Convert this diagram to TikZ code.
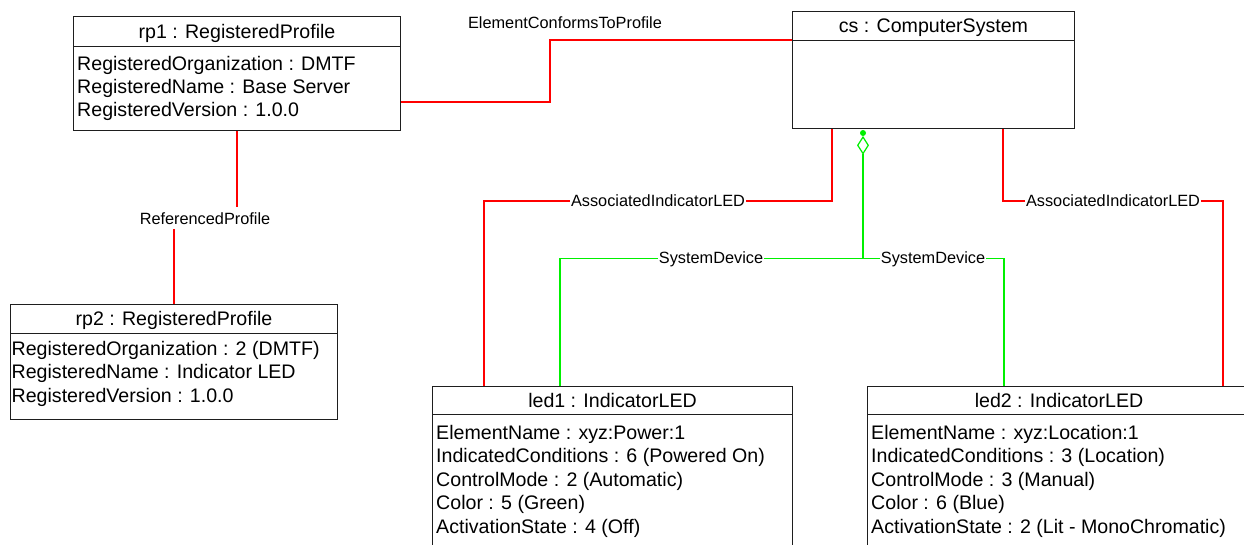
\documentclass[tikz,border=0pt]{standalone}
\usepackage{fontspec}
\setmainfont{Liberation Sans}
\usetikzlibrary{shapes.geometric,calc}
\definecolor{relred}{RGB}{255,0,0}
\definecolor{sdgreen}{RGB}{0,240,0}
\definecolor{boxgray}{RGB}{30,30,30}
\newcommand\bodyfont{\fontsize{19.6pt}{23.5pt}\selectfont}
\newcommand\lblfont{\fontsize{16.3pt}{19pt}\selectfont}
\begin{document}
\begin{tikzpicture}[x=1pt,y=-1pt,
  box/.style={draw=boxgray, line width=1pt, inner sep=0pt, anchor=north west},
  sepline/.style={draw=boxgray, line width=1pt},
  hdr/.style={font=\bodyfont, anchor=base, inner sep=0pt},
  attr/.style={font=\bodyfont, anchor=base west, inner sep=0pt},
  rel/.style={draw=relred, line width=1.4pt},
  sd/.style={draw=sdgreen, line width=1.4pt},
  sdstem/.style={draw=sdgreen, line width=2pt},
  lbl/.style={font=\lblfont, fill=white, inner xsep=1pt, inner ysep=5pt, text height=12pt, text depth=0pt},
  freelbl/.style={font=\lblfont, inner sep=0pt, text height=12pt, text depth=0pt}]
\clip (0,0) rectangle (1244,544);
\fill[white] (0,0) rectangle (1244,544);

% rp1
\node[box, minimum width=327pt, minimum height=114pt] (rp1) at (73,16) {};
\draw[sepline] ([yshift=-30pt]rp1.north west) -- ([yshift=-30pt]rp1.north east);
\node[hdr] (rp1h) at ([yshift=-22pt]rp1.north) {rp1 : RegisteredProfile};
\node[attr] (rp1a) at (77,70) {RegisteredOrganization : DMTF};
\node[attr] (rp1b) at (77,93.3) {RegisteredName : Base Server};
\node[attr] (rp1c) at (77,116.6) {RegisteredVersion : 1.0.0};

% rp2
\node[box, minimum width=327pt, minimum height=115pt] (rp2) at (10,304) {};
\draw[sepline] ([yshift=-29pt]rp2.north west) -- ([yshift=-29pt]rp2.north east);
\node[hdr] (rp2h) at ([yshift=-21.5pt]rp2.north) {rp2 : RegisteredProfile};
\node[attr] (rp2a) at (11.5,355) {RegisteredOrganization : 2 (DMTF)};
\node[attr] (rp2b) at (11.5,378.5) {RegisteredName : Indicator LED};
\node[attr] (rp2c) at (11.5,402) {RegisteredVersion : 1.0.0};

% cs
\node[box, minimum width=282pt, minimum height=117pt] (cs) at (792,11) {};
\draw[sepline] ([yshift=-29pt]cs.north west) -- ([yshift=-29pt]cs.north east);
\node[hdr] (csh) at ([yshift=-21.5pt]cs.north) {cs : ComputerSystem};

% led1
\node[box, minimum width=360pt, minimum height=170pt] (led1) at (432,386) {};
\draw[sepline] ([yshift=-28pt]led1.north west) -- ([yshift=-28pt]led1.north east);
\node[hdr] (led1h) at ([yshift=-21pt]led1.north) {led1 : IndicatorLED};
\node[attr] (led1a) at (436,439) {ElementName : xyz:Power:1};
\node[attr] (led1b) at (436,462.5) {IndicatedConditions : 6 (Powered On)};
\node[attr] (led1c) at (436,486) {ControlMode : 2 (Automatic)};
\node[attr] (led1d) at (436,509.5) {Color : 5 (Green)};
\node[attr] (led1e) at (436,533) {ActivationState : 4 (Off)};

% led2
\node[box, minimum width=383pt, minimum height=170pt] (led2) at (867,386) {};
\draw[sepline] ([yshift=-28pt]led2.north west) -- ([yshift=-28pt]led2.north east);
\node[hdr] (led2h) at ([yshift=-21pt]led2.north) {led2 : IndicatorLED};
\node[attr] (led2a) at (871,439) {ElementName : xyz:Location:1};
\node[attr] (led2b) at (871,462.5) {IndicatedConditions : 3 (Location)};
\node[attr] (led2c) at (871,486) {ControlMode : 3 (Manual)};
\node[attr] (led2d) at (871,509.5) {Color : 6 (Blue)};
\node[attr] (led2e) at (871,533) {ActivationState : 2 (Lit - MonoChromatic)};

% ElementConformsToProfile
\draw[rel] ([yshift=-86pt]rp1.north east) -- ++(149,0) |- ([yshift=-29pt]cs.north west);
\node[freelbl] (ectp) at (565,22) {ElementConformsToProfile};

% ReferencedProfile
\draw[rel] (rp1.south) -- ++(0,88) -| (rp2.north);
\node[lbl] (refp) at (205,218) {ReferencedProfile};

% AssociatedIndicatorLED
\draw[rel] ([xshift=40pt]cs.south west) -- ++(0,72) -| ([xshift=52pt]led1.north west);
\node[lbl] (ail1) at (658,200) {AssociatedIndicatorLED};
\draw[rel] ([xshift=211pt]cs.south west) -- ++(0,72) -| ([xshift=356pt]led2.north west);
\node[lbl] (ail2) at (1113,200) {AssociatedIndicatorLED};

% SystemDevice (aggregation)
\node[circle, fill=sdgreen, inner sep=0pt, minimum size=6pt] (aggdot) at ([xshift=71pt,yshift=-4pt]cs.south west) {};
\node[diamond, draw=sdgreen, line width=1.2pt, fill=white, inner sep=0pt, minimum width=11pt, minimum height=17pt, anchor=north] (agg) at (aggdot.south) {};
\draw[sdstem] (agg.south) -- ++(0,104) coordinate (sdj);
\draw[sd] (sdj) -| ([xshift=128pt]led1.north west);
\draw[sd] (sdj) -| ([xshift=137pt]led2.north west);
\node[lbl] (sd1) at (711,257) {SystemDevice};
\node[lbl] (sd2) at (933,257) {SystemDevice};
\end{tikzpicture}
\end{document}
